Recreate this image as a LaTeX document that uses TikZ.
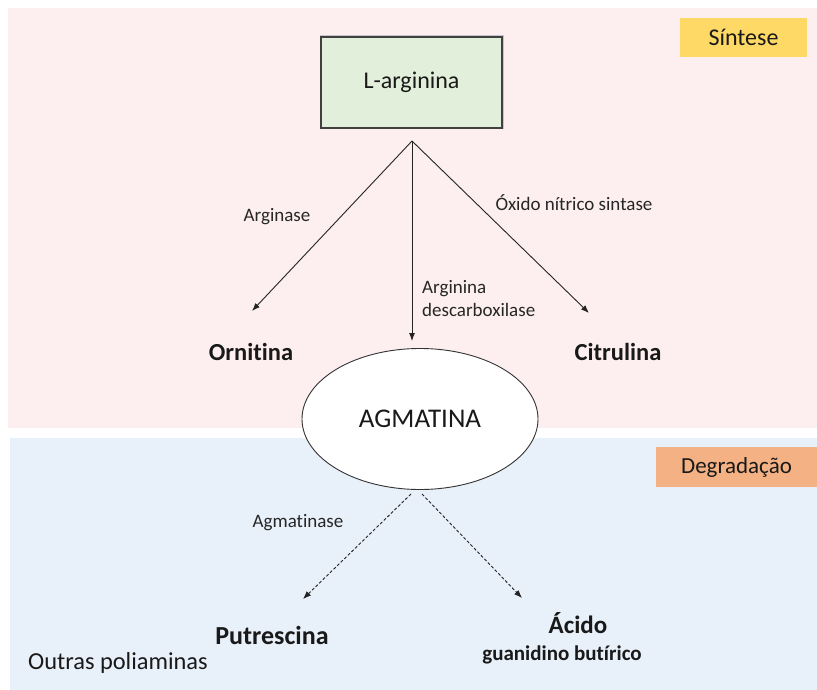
\documentclass[tikz,border=0pt]{standalone}
\usepackage{fontspec}
\setmainfont{Carlito}[Ligatures={NoCommon,NoRare,NoDiscretionary}]
\usetikzlibrary{arrows.meta,shapes.geometric}
\definecolor{pinkbg}{RGB}{253,239,239}
\definecolor{bluebg}{RGB}{232,240,249}
\definecolor{boxgreen}{RGB}{226,239,218}
\definecolor{tagyellow}{RGB}{255,217,102}
\definecolor{tagorange}{RGB}{244,177,131}
\definecolor{linegray}{RGB}{35,35,35}
\begin{document}
\begin{tikzpicture}[x=1pt,y=-1pt,
  lbl/.style={font=\fontsize{19}{23}\selectfont, inner sep=0pt, text=black!85},
  prod/.style={font=\bfseries\fontsize{24.5}{28}\selectfont, inner sep=0pt, text=black!90},
  arr/.style={draw=linegray, line width=0.9pt, -{Latex[length=8pt,width=6pt]}},
  darr/.style={arr, dash pattern=on 3pt off 2pt},
  tagbox/.style={inner sep=0pt, font=\fontsize{24}{28}\selectfont, text=black!90}
]
\useasboundingbox (0,0) rectangle (817,690);
\fill[pinkbg] (8,8) rectangle (817,428);
\fill[bluebg] (10,438) rectangle (817,690);

% tags
\node[tagbox, fill=tagyellow, minimum width=127pt, minimum height=39pt] (sint) at (743.5,37.5) {Síntese};
\node[tagbox, fill=tagorange, minimum width=161pt, minimum height=40pt, font=\fontsize{23}{27}\selectfont] (degr) at (736.5,467) {Degradação};

% L-arginina
\node[draw=gray!45, line width=3pt, minimum width=181pt, minimum height=91pt] (argshadow) at (411.5,82.5) {};
\node[fill=boxgreen, draw=gray!50!black, line width=1.2pt, minimum width=181pt, minimum height=91pt,
      font=\fontsize{24}{28}\selectfont, text=black!90] (arg) at (411.5,82.5) {L-arginina};

% AGMATINA
\node[ellipse, draw=gray!40!black, line width=0.9pt, fill=white, minimum width=236pt, minimum height=141pt,
      font=\fontsize{27}{31}\selectfont, text=black!90] (agm) at (420,419) {AGMATINA};

% coordinates
\coordinate (apex) at (412,141);
\coordinate (tipO) at (252,311);
\coordinate (tipA) at (412,341);
\coordinate (tipC) at (589,313);
\coordinate (dstartL) at (411,494);
\coordinate (dstartR) at (422,494);
\coordinate (tipP) at (303,599);
\coordinate (tipG) at (522,598);

\draw[arr] (apex) -- (tipO);
\draw[arr] (apex) -- (tipA);
\draw[arr] (apex) -- (tipC);
\draw[darr] (dstartL) -- (tipP);
\draw[darr] (dstartR) -- (tipG);

% labels
\node[lbl] (larginase) at (277,217) {Arginase};
\node[lbl] (loxido) at (574,203) {Óxido nítrico sintase};
\node[lbl, anchor=west, align=left] (ldesc) at (422,299) {Arginina\\descarboxilase};
\node[lbl] (lagmase) at (298,523) {Agmatinase};

% products
\node[prod] (orn) at (251,352) {Ornitina};
\node[prod] (cit) at (618,352) {Citrulina};
\node[prod, font=\bfseries\fontsize{26}{30}\selectfont] (put) at (272,635) {Putrescina};
\node[prod, font=\bfseries\fontsize{25}{29}\selectfont] (acido) at (578,623) {Ácido};
\node[prod, font=\bfseries\fontsize{21}{25}\selectfont] (guan) at (562,655) {guanidino butírico};
\node[inner sep=0pt, font=\fontsize{24.4}{28}\selectfont, text=black!90] (outras) at (118,663) {Outras poliaminas};
\end{tikzpicture}
\end{document}
